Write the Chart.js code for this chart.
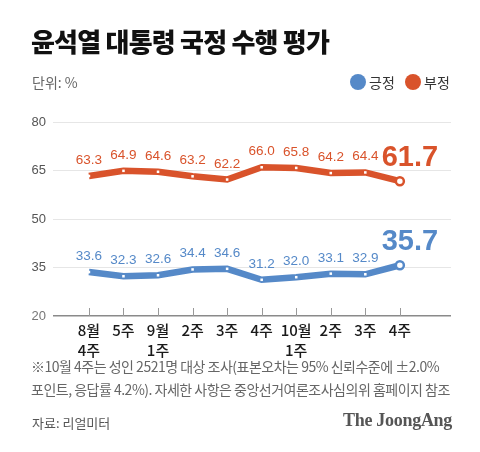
<!DOCTYPE html>
<html>
<head>
<meta charset="utf-8">
<script src="https://cdn.jsdelivr.net/npm/chart.js@4/dist/chart.umd.min.js"></script>
<style>
  body { margin: 0; background: #fff; }
  #wrap { position: relative; width: 480px; height: 452px; font-family: "Noto Sans CJK KR", sans-serif; }
  #wrap canvas { position: absolute; left: 0; top: 0; }
  .t { position: absolute; white-space: nowrap; }
  #title { left: 31px; top: 22px; font-size: 26px; font-weight: 900; color: #111; letter-spacing: -0.8px; }
  #unit { left: 32px; top: 72px; font-size: 14px; color: #666; }
  .leg { top: 72px; font-size: 14px; color: #333; }
  .dot { position: absolute; top: 74px; width: 16px; height: 16px; border-radius: 50%; }
  .note { left: 31px; font-size: 14px; color: #666; letter-spacing: -0.5px; }
  #src { left: 32px; top: 413px; font-size: 13px; color: #555; }
  #logo { right: 28px; top: 410px; font-family: "Liberation Serif", serif; font-weight: bold; font-size: 18px; color: #555; letter-spacing: -0.3px; }
</style>
</head>
<body>
<div id="wrap">
  <canvas id="chart" width="480" height="452"></canvas>
  <div class="t" id="title">윤석열 대통령 국정 수행 평가</div>
  <div class="t" id="unit">단위: %</div>
  <div class="dot" style="left:350px;background:#5589c8"></div>
  <div class="t leg" style="left:369px">긍정</div>
  <div class="dot" style="left:405px;background:#d9532b"></div>
  <div class="t leg" style="left:424px">부정</div>
  <div class="t note" style="top:356px">※10월 4주는 성인 2521명 대상 조사(표본오차는 95% 신뢰수준에 ±2.0%</div>
  <div class="t note" style="top:379px">포인트, 응답률 4.2%). 자세한 사항은 중앙선거여론조사심의위 홈페이지 참조</div>
  <div class="t" id="src">자료: 리얼미터</div>
  <div class="t" id="logo">The JoongAng</div>
</div>
<script>
// data
const weeks = [['8월', '4주'], '5주', ['9월', '1주'], '2주', '3주', '4주', ['10월', '1주'], '2주', '3주', '4주'];
const positive = [33.6, 32.3, 32.6, 34.4, 34.6, 31.2, 32.0, 33.1, 32.9, 35.7];
const negative = [63.3, 64.9, 64.6, 63.2, 62.2, 66.0, 65.8, 64.2, 64.4, 61.7];
const yTicks = [20, 35, 50, 65, 80];

const BLUE = '#5589c8';
const RED = '#d9532b';

function toPoints(arr) {
    return arr.map((v, i) => ({ x: i, y: v }));
}

const lastIdx = positive.length - 1;

function seriesStyle(color, values) {
    return {
        data: toPoints(values),
        borderColor: color,
        borderWidth: 6.5,
        tension: 0,
        pointStyle: ctx => ctx.dataIndex === lastIdx ? 'circle' : 'rect',
        pointRadius: ctx => ctx.dataIndex === lastIdx ? 4 : 1.8,
        pointBackgroundColor: '#fff',
        pointBorderColor: ctx => ctx.dataIndex === lastIdx ? color : '#fff',
        pointBorderWidth: ctx => ctx.dataIndex === lastIdx ? 2.5 : 0,
        labelColor: color
    };
}

// value labels above points
const valueLabels = {
    id: 'valueLabels',
    afterDatasetsDraw(chart) {
        const ctx = chart.ctx;
        chart.data.datasets.forEach((ds, di) => {
            const meta = chart.getDatasetMeta(di);
            meta.data.forEach((pt, i) => {
                const v = ds.data[i].y.toFixed(1);
                ctx.save();
                ctx.fillStyle = ds.labelColor;
                ctx.textAlign = 'center';
                ctx.textBaseline = 'bottom';
                if (i === lastIdx) {
                    ctx.font = 'bold 29px "Liberation Sans", sans-serif';
                    ctx.fillText(v, pt.x + 10, pt.y - 9);
                } else {
                    ctx.font = '13.5px "Liberation Sans", sans-serif';
                    ctx.fillText(v, pt.x, pt.y - 9);
                }
                ctx.restore();
            });
        });
    }
};

// small tick marks rising from the base line
const upTicks = {
    id: 'upTicks',
    beforeDatasetsDraw(chart) {
        const ctx = chart.ctx;
        const xs = chart.scales.x;
        const bottom = chart.chartArea.bottom;
        ctx.save();
        ctx.strokeStyle = '#999';
        ctx.lineWidth = 1;
        weeks.forEach((_, i) => {
            const px = Math.round(xs.getPixelForValue(i)) + 0.5;
            ctx.beginPath();
            ctx.moveTo(px, bottom - 8);
            ctx.lineTo(px, bottom);
            ctx.stroke();
        });
        ctx.restore();
    }
};

new Chart(document.getElementById('chart'), {
    type: 'line',
    data: {
        datasets: [seriesStyle(BLUE, positive), seriesStyle(RED, negative)]
    },
    options: {
        responsive: false,
        animation: false,
        layout: { padding: { left: 18, right: 29, top: 122, bottom: 86 } },
        plugins: { legend: { display: false }, tooltip: { enabled: false } },
        scales: {
            x: {
                type: 'linear',
                min: -1.04,
                max: 10.48,
                afterBuildTicks: scale => { scale.ticks = weeks.map((_, i) => ({ value: i })); },
                afterFit: scale => { scale.height = 50; },
                ticks: {
                    autoSkip: false,
                    maxRotation: 0,
                    padding: -3,
                    color: '#1a1a1a',
                    font: { family: '"Noto Sans CJK KR", sans-serif', size: 15, weight: 500, lineHeight: 1.3 },
                    callback: v => weeks[v]
                },
                grid: { display: false },
                border: { display: false }
            },
            y: {
                min: 20,
                max: 80,
                afterBuildTicks: scale => { scale.ticks = yTicks.map(v => ({ value: v })); },
                afterFit: scale => { scale.width = 35; },
                ticks: {
                    padding: 7,
                    color: ctx => ctx.tick.value === 20 ? '#777' : '#555',
                    font: { family: '"Liberation Sans", sans-serif', size: 13 }
                },
                grid: {
                    color: ctx => ctx.tick.value === 20 ? '#8a8a8a' : '#e6e6e6',
                    lineWidth: ctx => ctx.tick.value === 20 ? 1.5 : 1,
                    drawTicks: false
                },
                border: { display: false }
            }
        }
    },
    plugins: [upTicks, valueLabels]
});
</script>
</body>
</html>
